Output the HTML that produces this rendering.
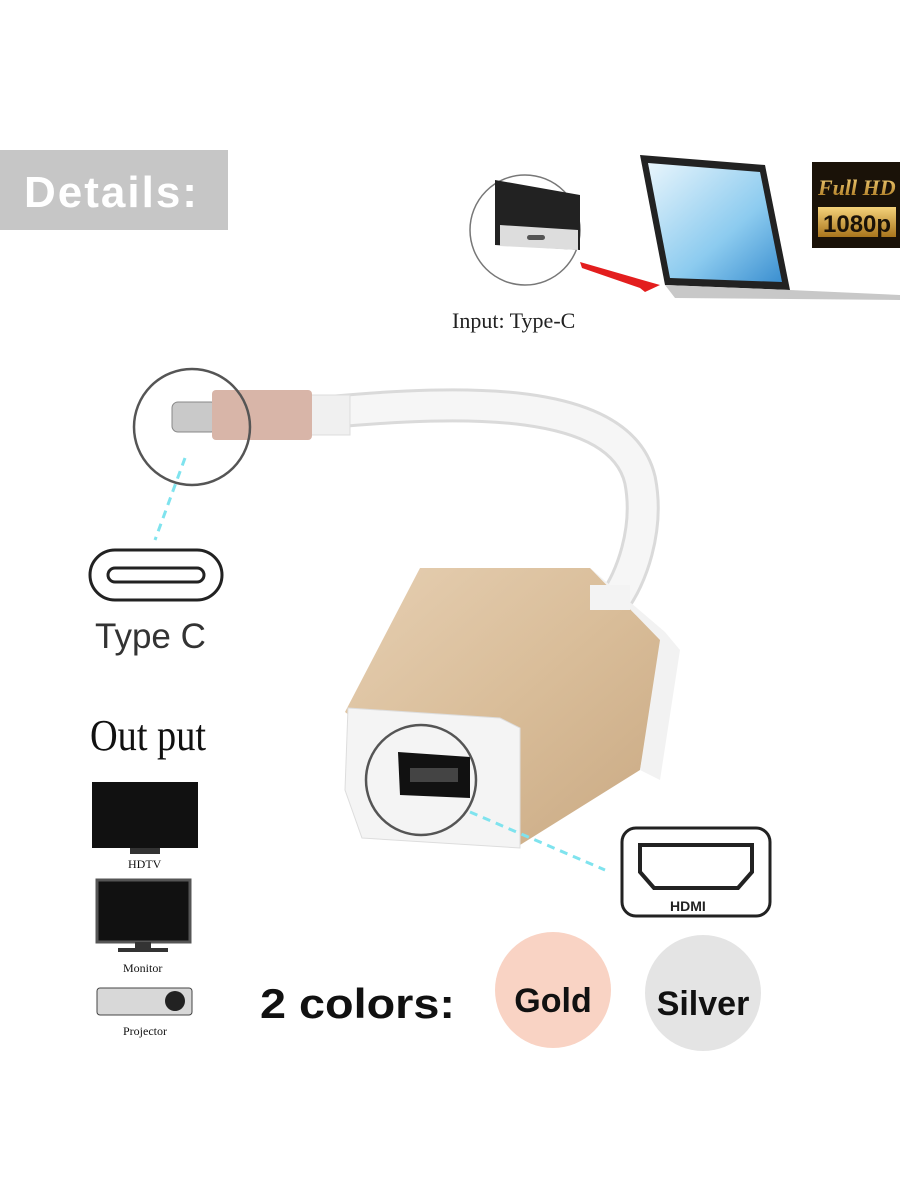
<!DOCTYPE html>
<html><head><meta charset="utf-8"><style>
html,body{margin:0;padding:0;background:#fff;}
svg{display:block}
</style></head><body>
<svg width="900" height="1200" viewBox="0 0 900 1200" xmlns="http://www.w3.org/2000/svg" font-family="Liberation Sans, sans-serif">
<defs>
<linearGradient id="gold" x1="0" y1="0" x2="1" y2="1"><stop offset="0" stop-color="#e6cfb2"/><stop offset="0.5" stop-color="#d9bd99"/><stop offset="1" stop-color="#c9a983"/></linearGradient>
<linearGradient id="scr" x1="0" y1="0" x2="1" y2="1"><stop offset="0" stop-color="#e8f5fc"/><stop offset="0.6" stop-color="#8ccbef"/><stop offset="1" stop-color="#3b8fd0"/></linearGradient>
<linearGradient id="hd" x1="0" y1="0" x2="0" y2="1"><stop offset="0" stop-color="#f4d27a"/><stop offset="1" stop-color="#a9751c"/></linearGradient>
</defs>
<rect x="0" y="150" width="228" height="80" fill="#c6c6c6"/>
<text x="24" y="207" font-size="44" font-weight="bold" fill="#fff" letter-spacing="2">Details:</text>
<circle cx="525" cy="230" r="55" fill="#fff" stroke="#777" stroke-width="1.5"/>
<path d="M495 180 L580 195 L580 250 L495 245 Z" fill="#222"/>
<path d="M500 225 L578 230 L578 250 L500 246 Z" fill="#ddd"/>
<rect x="527" y="235" width="18" height="5" rx="2.5" fill="#555"/>
<polygon points="580,262 660,285 645,292 640,288 582,268" fill="#e31e1e"/>
<polygon points="640,155 765,165 790,290 665,285" fill="#222"/>
<polygon points="648,163 760,172 782,282 670,278" fill="url(#scr)"/>
<polygon points="665,285 790,290 900,295 900,300 675,298" fill="#c8c8c8"/>
<rect x="812" y="162" width="88" height="86" fill="#1a1208"/>
<text x="818" y="195" font-size="22" font-style="italic" font-family="Liberation Serif, serif" fill="url(#hd)" font-weight="bold">Full HD</text>
<rect x="818" y="207" width="78" height="30" fill="url(#hd)"/>
<text x="823" y="232" font-size="24" font-weight="bold" fill="#1a1208">1080p</text>
<text x="452" y="328" font-size="22" font-family="Liberation Serif, serif" fill="#222">Input: Type-C</text>
<path d="M330 412 C 460 400, 620 395, 640 480 C 650 530, 630 580, 615 600" fill="none" stroke="#dadada" stroke-width="34" stroke-linecap="round"/>
<path d="M330 412 C 460 400, 620 395, 640 480 C 650 530, 630 580, 615 600" fill="none" stroke="#f6f6f6" stroke-width="28" stroke-linecap="round"/>
<rect x="305" y="395" width="45" height="40" fill="#f0f0f0" stroke="#ddd"/>
<rect x="172" y="402" width="45" height="30" rx="6" fill="#c9c9c9" stroke="#888"/>
<rect x="212" y="390" width="100" height="50" rx="4" fill="#d8b5a8"/>
<circle cx="192" cy="427" r="58" fill="none" stroke="#555" stroke-width="2.5"/>
<line x1="185" y1="458" x2="155" y2="540" stroke="#7fe3ee" stroke-width="3" stroke-dasharray="8,6"/>
<rect x="90" y="550" width="132" height="50" rx="25" fill="none" stroke="#222" stroke-width="3"/>
<rect x="108" y="568" width="96" height="14" rx="7" fill="none" stroke="#222" stroke-width="3"/>
<text x="95" y="648" font-size="35" fill="#333">Type C</text>
<polygon points="420,568 590,568 665,635 640,770 520,845 345,712" fill="url(#gold)"/>
<polygon points="590,568 665,632 680,650 660,780 640,770 660,640" fill="#f2f2f2"/>
<polygon points="348,708 500,718 520,728 520,848 362,838 345,790" fill="#f4f4f4" stroke="#ddd"/>
<rect x="590" y="585" width="40" height="25" fill="#f3f3f3"/>
<polygon points="398,752 470,757 470,798 400,795" fill="#111"/>
<rect x="410" y="768" width="48" height="14" fill="#444"/>
<circle cx="421" cy="780" r="55" fill="none" stroke="#555" stroke-width="2.5"/>
<line x1="470" y1="812" x2="605" y2="870" stroke="#7fe3ee" stroke-width="3" stroke-dasharray="8,6"/>
<rect x="622" y="828" width="148" height="88" rx="14" fill="#fff" stroke="#222" stroke-width="3"/>
<path d="M640 845 L752 845 L752 872 L738 888 L654 888 L640 872 Z" fill="none" stroke="#222" stroke-width="4"/>
<text x="670" y="911" font-size="14" font-weight="bold" fill="#222">HDMI</text>
<text x="90" y="750" font-size="44" font-family="Liberation Serif, serif" fill="#111" textLength="116" lengthAdjust="spacingAndGlyphs">Out put</text>
<rect x="92" y="782" width="106" height="66" fill="#111"/>
<rect x="130" y="848" width="30" height="6" fill="#333"/>
<text x="128" y="868" font-size="12" font-family="Liberation Serif, serif" fill="#111">HDTV</text>
<rect x="97" y="880" width="93" height="62" fill="#111" stroke="#555" stroke-width="3"/>
<rect x="135" y="942" width="16" height="6" fill="#333"/>
<rect x="118" y="948" width="50" height="4" fill="#333"/>
<text x="123" y="972" font-size="12" font-family="Liberation Serif, serif" fill="#111">Monitor</text>
<rect x="97" y="988" width="95" height="27" rx="3" fill="#d8d8d8" stroke="#444"/>
<circle cx="175" cy="1001" r="10" fill="#222"/>
<text x="123" y="1035" font-size="12" font-family="Liberation Serif, serif" fill="#111">Projector</text>
<text x="260" y="1018" font-size="42" font-weight="bold" fill="#111" textLength="195" lengthAdjust="spacingAndGlyphs">2 colors:</text>
<circle cx="553" cy="990" r="58" fill="#f9d3c4"/>
<text x="553" y="1012" font-size="34" font-weight="bold" text-anchor="middle" fill="#111">Gold</text>
<circle cx="703" cy="993" r="58" fill="#e4e4e4"/>
<text x="703" y="1015" font-size="34" font-weight="bold" text-anchor="middle" fill="#111">Silver</text>
</svg>
</body></html>
